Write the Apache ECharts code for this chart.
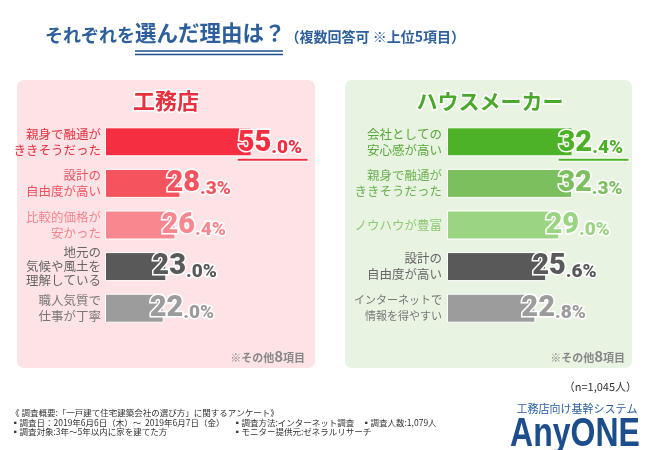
<!DOCTYPE html>
<html><head><meta charset="utf-8">
<script src="https://cdn.jsdelivr.net/npm/echarts@6/dist/echarts.min.js"></script>
<style>html,body{margin:0;padding:0;background:#fff}#c{width:650px;height:450px}</style>
</head><body><div id="c"></div>
<script>
const FONT = '"Noto Sans CJK JP", "Noto Sans", sans-serif';
const NUMFONT = 'Roboto, "Noto Sans", sans-serif';

const koumutenCats = ['親身で融通が\nききそうだった', '設計の\n自由度が高い', '比較的価格が\n安かった', '地元の\n気候や風土を\n理解している', '職人気質で\n仕事が丁寧'];
const koumutenValues = [55.0, 28.3, 26.4, 23.0, 22.0];
const houseCats = ['会社としての\n安心感が高い', '親身で融通が\nききそうだった', 'ノウハウが豊富', '設計の\n自由度が高い', 'インターネットで\n情報を得やすい'];
const houseValues = [32.4, 32.3, 29.0, 25.6, 22.8];

const koumutenBarColors = ['#f52f41', '#f5545f', '#f9878f', '#595959', '#9c9c9c'];
const koumutenTextColors = ['#e8303e', '#ee5060', '#f5838c', '#666666', '#777777'];
const houseBarColors = ['#4db227', '#7bbf5f', '#9bd582', '#595959', '#9c9c9c'];
const houseTextColors = ['#55a935', '#6ab34f', '#8cca70', '#666666', '#777777'];

function catData(cats, colors) {
  return cats.map((c, i) => {
    const lines = c.split('\n').length;
    const longest = Math.max(...c.split('\n').map(s => s.length));
    return {
      value: c,
      textStyle: {
        color: colors[i],
        fontSize: longest >= 8 ? 11 : 12.5,
        lineHeight: lines >= 3 ? 14 : 16,
        fontFamily: FONT
      }
    };
  });
}

function buildRich(colors) {
  const rich = {};
  colors.forEach((c, i) => {
    rich['b' + i] = {fontSize: 29, fontWeight: 900, color: c, textBorderColor: '#fff', textBorderWidth: 3, fontFamily: NUMFONT, lineHeight: 30, verticalAlign: 'bottom'};
    rich['s' + i] = {fontSize: 19, fontWeight: 900, color: c, textBorderColor: '#fff', textBorderWidth: 3, fontFamily: NUMFONT, lineHeight: 26, verticalAlign: 'bottom'};
    rich['u' + i] = {width: 70, height: 2, lineHeight: 4, fontSize: 1, backgroundColor: c, borderColor: '#fff', borderWidth: 1};
  });
  return rich;
}

function labelFormatter(p) {
  const s = p.value.toFixed(1).split('.');
  const i = p.dataIndex;
  let t = '{b' + i + '|' + s[0] + '}{s' + i + '|.' + s[1] + '%}';
  if (i === 0) t += '\n{u' + i + '| }';
  return t;
}

function barData(vals, colors) {
  return vals.map((v, i) => ({
    value: v,
    itemStyle: {color: colors[i]},
    label: {offset: [-19, i === 0 ? 3 : 0]}
  }));
}

const chart = echarts.init(document.getElementById('c'), null, {renderer: 'canvas'});
chart.setOption({
  backgroundColor: '#ffffff',
  animation: false,
  textStyle: {fontFamily: FONT},
  title: {
    left: 40, top: 11,
    text: '{a|それぞれを}{b|選んだ理由は？}{c|（複数回答可 ※上位5項目）}',
    textStyle: {
      rich: {
        a: {fontSize: 18, fontWeight: 'bold', color: '#2c5f9b', fontFamily: FONT, verticalAlign: 'bottom', lineHeight: 28},
        b: {fontSize: 21.5, fontWeight: 'bold', color: '#2c5f9b', fontFamily: FONT, verticalAlign: 'bottom', lineHeight: 28},
        c: {fontSize: 14, fontWeight: 'bold', color: '#2c5f9b', fontFamily: FONT, verticalAlign: 'bottom', lineHeight: 24}
      }
    }
  },
  grid: [
    {left: 105, top: 121, width: 160, height: 208},
    {left: 447, top: 121, width: 155, height: 208}
  ],
  xAxis: [
    {gridIndex: 0, type: 'value', min: 0, max: 60, show: false},
    {gridIndex: 1, type: 'value', min: 0, max: 40, show: false}
  ],
  yAxis: [
    {gridIndex: 0, type: 'category', inverse: true, data: catData(koumutenCats, koumutenTextColors),
     axisLine: {show: false}, axisTick: {show: false}, axisLabel: {margin: 4, align: 'right'}},
    {gridIndex: 1, type: 'category', inverse: true, data: catData(houseCats, houseTextColors),
     axisLine: {show: false}, axisTick: {show: false}, axisLabel: {margin: 5, align: 'right'}}
  ],
  series: [
    {type: 'bar', xAxisIndex: 0, yAxisIndex: 0, barWidth: 29, data: barData(koumutenValues, koumutenBarColors),
     itemStyle: {borderColor: '#ffffff', borderWidth: 1},
     label: {show: true, position: 'right', formatter: labelFormatter, rich: buildRich(koumutenBarColors)}},
    {type: 'bar', xAxisIndex: 1, yAxisIndex: 1, barWidth: 29, data: barData(houseValues, houseBarColors),
     itemStyle: {borderColor: '#ffffff', borderWidth: 1},
     label: {show: true, position: 'right', formatter: labelFormatter, rich: buildRich(houseBarColors)}}
  ],
  graphic: [
    {type: 'rect', z: -10, shape: {x: 17, y: 80, width: 298, height: 288, r: 7}, style: {fill: '#fde3e6'}},
    {type: 'rect', z: -10, shape: {x: 345, y: 80, width: 287, height: 288, r: 7}, style: {fill: '#e8f3e2'}},
    {type: 'line', shape: {x1: 135, y1: 51, x2: 283, y2: 51}, style: {stroke: '#1f4f8c', lineWidth: 1.3}},
    {type: 'line', shape: {x1: 135, y1: 54.5, x2: 283, y2: 54.5}, style: {stroke: '#1f4f8c', lineWidth: 1.3}},
    {type: 'text', x: 166, y: 101, style: {text: '工務店', fontSize: 22, fontWeight: 'bold', fill: '#e8303e', stroke: '#fff', lineWidth: 3, align: 'center', verticalAlign: 'middle', fontFamily: FONT}},
    {type: 'text', x: 490, y: 101, style: {text: 'ハウスメーカー', fontSize: 21, fontWeight: 'bold', fill: '#4aa82a', stroke: '#fff', lineWidth: 3, align: 'center', verticalAlign: 'middle', fontFamily: FONT}},
    {type: 'text', x: 305, y: 355, style: {text: '{a|※その他}{b|8}{a|項目}', align: 'right', verticalAlign: 'middle',
      rich: {a: {fontSize: 11, fontWeight: 'bold', fill: '#888', fontFamily: FONT, verticalAlign: 'bottom', lineHeight: 17}, b: {fontSize: 15, fontWeight: 'bold', fill: '#888', fontFamily: FONT, verticalAlign: 'bottom', lineHeight: 17}}}},
    {type: 'text', x: 625, y: 355, style: {text: '{a|※その他}{b|8}{a|項目}', align: 'right', verticalAlign: 'middle',
      rich: {a: {fontSize: 11, fontWeight: 'bold', fill: '#888', fontFamily: FONT, verticalAlign: 'bottom', lineHeight: 17}, b: {fontSize: 15, fontWeight: 'bold', fill: '#888', fontFamily: FONT, verticalAlign: 'bottom', lineHeight: 17}}}},
    {type: 'text', x: 637, y: 387, style: {text: '（n=1,045人）', fontSize: 11, fill: '#333', align: 'right', verticalAlign: 'middle', fontFamily: FONT}},
    {type: 'text', x: 11, y: 413, style: {text: '《 調査概要:「一戸建て住宅建築会社の選び方」に関するアンケート》', fontSize: 8.5, fill: '#333', verticalAlign: 'middle', fontFamily: FONT}},
    {type: 'text', x: 11, y: 423, style: {text: '▪調査日：2019年6月6日（木）～  2019年6月7日（金）', fontSize: 8.5, fill: '#333', verticalAlign: 'middle', fontFamily: FONT}},
    {type: 'text', x: 233, y: 423, style: {text: '▪調査方法:インターネット調査', fontSize: 8.5, fill: '#333', verticalAlign: 'middle', fontFamily: FONT}},
    {type: 'text', x: 362, y: 423, style: {text: '▪調査人数:1,079人', fontSize: 8.5, fill: '#333', verticalAlign: 'middle', fontFamily: FONT}},
    {type: 'text', x: 11, y: 432, style: {text: '▪調査対象:3年～5年以内に家を建てた方', fontSize: 8.5, fill: '#333', verticalAlign: 'middle', fontFamily: FONT}},
    {type: 'text', x: 233, y: 432, style: {text: '▪モニター提供元:ゼネラルリサーチ', fontSize: 8.5, fill: '#333', verticalAlign: 'middle', fontFamily: FONT}},
    {type: 'text', x: 577, y: 409, style: {text: '工務店向け基幹システム', fontSize: 11, fill: '#2a5f9e', align: 'center', verticalAlign: 'middle', fontFamily: FONT}},
    {type: 'text', x: 575, y: 435, scaleX: 0.8, style: {text: 'AnyONE', fontSize: 40, fontWeight: 'bold', fill: '#1c4d8c', align: 'center', verticalAlign: 'middle', fontFamily: '"Liberation Sans", Arial, sans-serif'}}
  ]
});
</script>
</body></html>
